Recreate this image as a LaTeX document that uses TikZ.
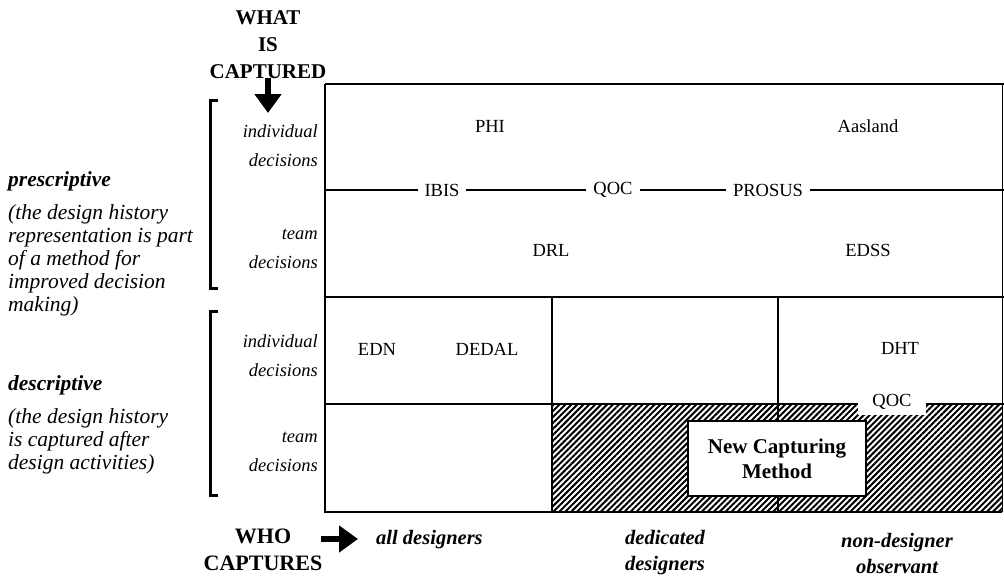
\documentclass[tikz,border=0pt]{standalone}
\usepackage{fontspec}
\setmainfont{Liberation Serif}
\usetikzlibrary{arrows.meta,patterns.meta}
\begin{document}
\begin{tikzpicture}[x=1pt,y=-1pt,
  grid/.style={line width=1.3pt},
  cell/.style={font=\fontsize{18.5}{20}\selectfont, inner sep=0pt},
  rowlab/.style={font=\fontsize{18.5}{29}\selectfont\itshape, align=right, anchor=east, inner sep=0pt},
  head/.style={font=\fontsize{21}{27}\selectfont\bfseries, align=center, inner sep=0pt},
  collab/.style={font=\fontsize{20.5}{26}\selectfont\bfseries\itshape, align=center, inner sep=0pt},
  sidetitle/.style={font=\fontsize{21.5}{23}\selectfont\bfseries\itshape, anchor=west, inner sep=0pt},
  sidetext/.style={font=\fontsize{21.5}{23}\selectfont\itshape, align=left, anchor=north west, inner sep=0pt},
  bracket/.style={line width=3pt},
  bigarrow/.style={line width=6pt, -{Triangle[width=26pt,length=19pt]}},
  gaplabel/.style={cell, fill=white, inner xsep=7pt, inner ysep=3pt}
]
\useasboundingbox (0,0) rectangle (1004,578);

% hatched region: team decisions captured by dedicated designers / observers
\fill[pattern={Lines[angle=45,distance=4.2pt,line width=2pt]}] (552,404) rectangle (1002,512);

% table frame and row/column rules
\draw[grid] (325,84) -- (1004,84);
\draw[grid] (325,84) -- (325,512) -- (1002,512);
\draw[line width=0.6pt] (1002,84) -- (1002,512);
\draw[grid] (325,190) -- (1004,190);
\draw[grid] (325,297) -- (1004,297);
\draw[grid] (325,404) -- (1004,404);
\draw[grid] (552,297) -- (552,512);

% box for the proposed method
\node[draw, line width=1.3pt, fill=white, minimum width=178pt, minimum height=75pt,
      font=\fontsize{21}{25}\selectfont\bfseries, align=center, inner sep=0pt] (ncm) at (777,458.5)
      {New Capturing\\Method};
\coordinate (midtop) at (778,297);
\coordinate (midbot) at (778,512);
\draw[grid] (midtop) -- (ncm.north -| midtop);
\draw[grid] (ncm.south -| midbot) -- (midbot);

% cell entries
\node[cell] (phi) at (490,126) {PHI};
\node[cell] (aasland) at (868,126) {Aasland};
\node[gaplabel] (ibis) at (442,190) {IBIS};
\node[gaplabel] (qoc1) at (613,190) {QOC};
\node[gaplabel] (prosus) at (768,190) {PROSUS};
\node[cell] (drl) at (551,250) {DRL};
\node[cell] (edss) at (868,250) {EDSS};
\node[cell] (edn) at (377,349) {EDN};
\node[cell] (dedal) at (487,349) {DEDAL};
\node[cell] (dht) at (900,348) {DHT};
\node[cell, fill=white, minimum width=68pt, minimum height=26pt] (qoc2) at (892,402) {QOC};

% row labels
\node[rowlab] (pind) at (318,146) {individual\\decisions};
\node[rowlab] (pteam) at (318,249) {team\\decisions};
\node[rowlab] (dind) at (318,356) {individual\\decisions};
\node[rowlab] (dteam) at (318,452) {team\\decisions};

% brackets grouping the two kinds of representation
\draw[bracket] (218,100) -- (210,100) -- (210,288) -- (218,288);
\draw[bracket] (218,311) -- (210,311) -- (210,495) -- (218,495);

% side descriptions
\node[sidetitle] (presc) at (8,181) {prescriptive};
\node[sidetext] (presctext) at (8,204) {(the design history\\representation is part\\of a method for\\improved decision\\making)};
\node[sidetitle] (desc) at (8,385) {descriptive};
\node[sidetext] (desctext) at (8,408) {(the design history\\is captured after\\design activities)};

% axis headings
\node[head] (what) at (268,45) {WHAT\\IS\\CAPTURED};
\coordinate (wa1) at (268,78);
\coordinate (wa2) at (268,113);
\draw[bigarrow] (wa1) -- (wa2);

\node[head, font=\fontsize{22}{27}\selectfont\bfseries] (who) at (263,550) {WHO\\CAPTURES};
\coordinate (ha1) at (321,539);
\coordinate (ha2) at (358,539);
\draw[bigarrow] (ha1) -- (ha2);

% column labels
\node[collab, anchor=west] (allD) at (376,540) {all designers};
\node[collab] (dedD) at (665,553) {dedicated\\designers};
\node[collab] (nonD) at (897,553) {non-designer\\observant};
\end{tikzpicture}
\end{document}
